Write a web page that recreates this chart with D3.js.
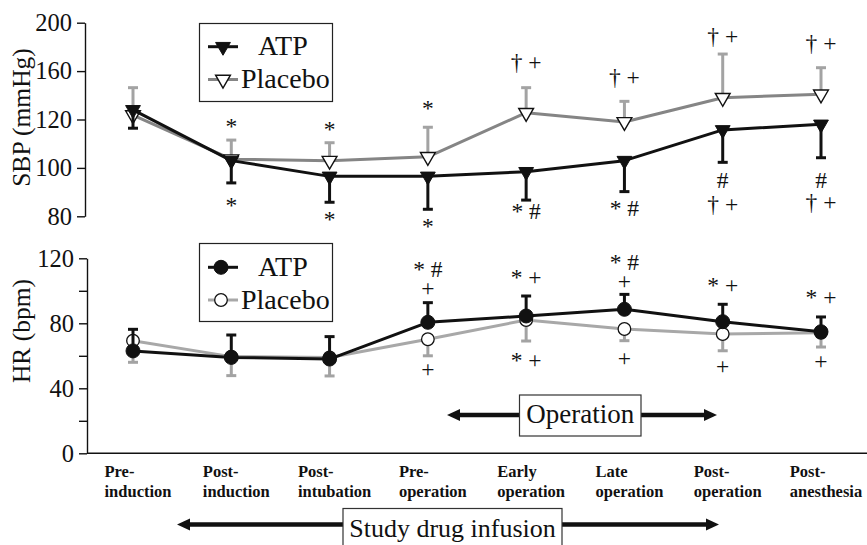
<!DOCTYPE html>
<html><head><meta charset="utf-8">
<script src="https://cdn.jsdelivr.net/npm/d3@7"></script>
<style>
body{margin:0;background:#fff;}
svg{display:block;}
text{font-family:"Liberation Serif","Times New Roman",serif;fill:#111;}
</style></head>
<body>
<svg id="chart" width="867" height="545"></svg>
<script>
// ---------- data ----------
const categories = ["Pre-induction","Post-induction","Post-intubation","Pre-operation","Early operation","Late operation","Post-operation","Post-anesthesia"];
const catLabels = [["Pre-","induction"],["Post-","induction"],["Post-","intubation"],["Pre-","operation"],["Early","operation"],["Late","operation"],["Post-","operation"],["Post-","anesthesia"]];

const sbpTicks = [80,100,120,160,200];
const sbpATP      = [128, 103, 96.5, 96.5, 98.4, 103, 115.7, 118];
const sbpATPsd    = [11.6, 9.2, 10.7, 13.6, 11.7, 12.8, 13.4, 13.8];
const sbpPlacebo  = [123.7, 103.6, 103, 104.6, 125.6, 119, 138, 140.8];
const sbpPlacebosd= [22.6, 7.9, 7.4, 12.2, 20.7, 16, 36.1, 22];

const hrTicks = [0,20,40,60,80,100,120];
const hrLabelTicks = [0,40,80,120];
const hrATP       = [63, 59, 58, 80.6, 84.5, 88.6, 81, 74.8];
const hrATPsd     = [13.3, 13.8, 13.8, 12.1, 12.3, 9.2, 10.7, 9.1];
const hrPlacebo   = [69.3, 59.5, 59, 70.2, 82, 76.5, 73.4, 74.2];
const hrPlacebosd = [13.3, 11.7, 11.4, 10.2, 12.9, 7.2, 10.3, 8.8];

// significance marks: [category, lines of text, value level of first line]
const sbpAnnot = [
  ["Post-induction",["*"],118.6],["Post-induction",["*"],85.9],
  ["Post-intubation",["*"],117.3],["Post-intubation",["*"],80.1],
  ["Pre-operation",["*"],132],["Pre-operation",["*"],77.2],
  ["Early operation",["\u2020 +"],167.5],["Early operation",["* #"],81.8],
  ["Late operation",["\u2020 +"],154.3],["Late operation",["* #"],83.4],
  ["Post-operation",["\u2020 +"],189],["Post-operation",["#"],95],["Post-operation",["\u2020 +"],84.7],
  ["Post-anesthesia",["\u2020 +"],183.2],["Post-anesthesia",["#"],95],["Post-anesthesia",["\u2020 +"],85.5]
];
const hrAnnot = [
  ["Pre-operation",["* #","+"],113],["Pre-operation",["+"],51.7],
  ["Early operation",["* +"],108.3],["Early operation",["* +"],57.4],
  ["Late operation",["* #","+"],117.3],["Late operation",["+"],58.5],
  ["Post-operation",["* +"],103],["Post-operation",["+"],53.7],
  ["Post-anesthesia",["* +"],96],["Post-anesthesia",["+"],56.4]
];
const seriesNames = ["ATP","Placebo"];

// ---------- scales ----------
const svg = d3.select("#chart");
const x = d3.scalePoint().domain(categories).range([133, 821]);
const ySbp = d3.scaleLinear().domain(sbpTicks).range([216.3,167.9,119.5,71.1,22.7]);
const yHr = d3.scaleLinear().domain([0,120]).range([453.3,258.3]);

const BLACK = "#111", GRAY_LINE = "#858585", GRAY_BAR = "#a3a3a3", GRAY_LINE2 = "#a8a8a8";

// ---------- axes ----------
function styleAxis(g){
  g.select(".domain").attr("stroke",BLACK).attr("stroke-width",1.4);
  g.selectAll(".tick line").attr("stroke",BLACK).attr("stroke-width",1.4);
  g.selectAll(".tick text").style("font-family",'"Liberation Serif",serif').style("font-size","24.5px").attr("fill","#111");
}
svg.append("g").attr("transform","translate(85,0)")
  .call(d3.axisLeft(ySbp).tickValues(sbpTicks).tickSize(8).tickPadding(5).tickSizeOuter(0).tickFormat(d3.format("d")))
  .call(styleAxis);
svg.append("g").attr("transform","translate(87,0)")
  .call(d3.axisLeft(yHr).tickValues(hrTicks).tickSize(8).tickPadding(5).tickSizeOuter(0)
    .tickFormat(d => hrLabelTicks.includes(d) ? d : ""))
  .call(styleAxis);
// baseline x-axis
svg.append("line").attr("x1",87).attr("x2",867).attr("y1",yHr(0)).attr("y2",yHr(0))
  .attr("stroke",BLACK).attr("stroke-width",1.4);

// axis titles
svg.append("text").attr("transform",`translate(30,117.5) rotate(-90)`)
  .attr("text-anchor","middle").style("font-size","25.5px").text("SBP (mmHg)");
svg.append("text").attr("transform",`translate(30,331) rotate(-90)`)
  .attr("text-anchor","middle").style("font-size","25.5px").text("HR (bpm)");

// category labels
const cl = svg.append("g");
catLabels.forEach((lines,i)=>{
  const t = cl.append("text").style("font-size","16.5px").style("font-weight","bold");
  lines.forEach((s,j)=> t.append("tspan").attr("y", 476.5 + j*20).text(s));
  const w = d3.max(t.selectAll("tspan").nodes(), n=>n.getComputedTextLength());
  t.selectAll("tspan").attr("x", x(categories[i]) + 5 - w/2);
});

// ---------- drawing helpers ----------
function drawSeries(g, scale, vals, sds, dir, lineColor, barColor){
  const line = d3.line().x((d,i)=>x(categories[i])).y(d=>scale(d));
  vals.forEach((v,i)=>{
    const cx = x(categories[i]);
    const end = v + dir*sds[i];
    g.append("line").attr("x1",cx).attr("x2",cx).attr("y1",scale(v)).attr("y2",scale(end))
      .attr("stroke",barColor).attr("stroke-width",3);
    g.append("line").attr("x1",cx-5).attr("x2",cx+5).attr("y1",scale(end)).attr("y2",scale(end))
      .attr("stroke",barColor).attr("stroke-width",3);
  });
  g.append("path").datum(vals).attr("d",line).attr("fill","none")
    .attr("stroke",lineColor).attr("stroke-width",3).attr("stroke-linejoin","round");
}
const triDown = d3.symbol().type(d3.symbolTriangle).size(95);
function drawTri(g, cx, cy, filled){
  g.append("path").attr("d",triDown()).attr("transform",`translate(${cx},${cy}) rotate(180)`)
    .attr("fill",filled?BLACK:"#fff").attr("stroke",BLACK).attr("stroke-width",filled?1:1.4);
}
function drawCirc(g, cx, cy, filled){
  g.append("circle").attr("cx",cx).attr("cy",cy).attr("r",filled?7:6.3)
    .attr("fill",filled?BLACK:"#fff").attr("stroke",BLACK).attr("stroke-width",filled?1:1.3);
}

// ---------- SBP panel ----------
const gS = svg.append("g");
drawSeries(gS, ySbp, sbpPlacebo, sbpPlacebosd, +1, GRAY_LINE, GRAY_BAR);
sbpPlacebo.forEach((v,i)=>drawTri(gS, x(categories[i]), ySbp(v), false));
drawSeries(gS, ySbp, sbpATP, sbpATPsd, -1, BLACK, BLACK);
sbpATP.forEach((v,i)=>drawTri(gS, x(categories[i]), ySbp(v), true));

// ---------- HR panel ----------
const gH = svg.append("g");
drawSeries(gH, yHr, hrPlacebo, hrPlacebosd, -1, GRAY_LINE2, GRAY_BAR);
hrPlacebo.forEach((v,i)=>drawCirc(gH, x(categories[i]), yHr(v), false));
drawSeries(gH, yHr, hrATP, hrATPsd, +1, BLACK, BLACK);
hrATP.forEach((v,i)=>drawCirc(gH, x(categories[i]), yHr(v), true));

// ---------- annotations ----------
function drawAnnot(list, scale){
  list.forEach(([c,lines,v])=>{
    const off = (lines[0] === "*") ? 11 : 7.5;
    const t = svg.append("text").attr("text-anchor","middle").style("font-size","23.5px");
    lines.forEach((s,j)=> t.append("tspan").attr("x",x(c)).attr("y", scale(v)+off + j*18.5).text(s));
  });
}
drawAnnot(sbpAnnot, ySbp);
drawAnnot(hrAnnot, yHr);

// ---------- legends ----------
function legend(y0, rows, kind){
  const g = svg.append("g");
  g.append("rect").attr("x",199.5).attr("y",y0).attr("width",133).attr("height",78)
    .attr("fill","#fff").attr("stroke","#222").attr("stroke-width",1.2);
  seriesNames.forEach((name,i)=>{
    const cy = rows[i];
    const filled = i===0;
    g.append("line").attr("x1",208).attr("x2",238).attr("y1",cy).attr("y2",cy)
      .attr("stroke",filled?BLACK:(kind==="tri"?GRAY_LINE:GRAY_LINE2)).attr("stroke-width",3);
    if(kind==="tri") drawTri(g,223,cy,filled); else drawCirc(g,221,cy,filled);
    g.append("text").attr("x", filled?258:241).attr("y",cy+8.5).style("font-size","28px").text(name);
  });
}
legend(23.5, [46.7,79.5], "tri");
legend(243.5, [267.3,300], "circ");

// ---------- phase arrows ----------
function phaseArrow(x1, x2, yy, bx1, bx2, by1, by2, label, fs, tyOff){
  const g = svg.append("g");
  g.append("line").attr("x1",x1+10).attr("x2",x2-10).attr("y1",yy).attr("y2",yy)
    .attr("stroke",BLACK).attr("stroke-width",4.5);
  g.append("path").attr("d",`M${x1},${yy} L${x1+13},${yy-6} L${x1+13},${yy+6} Z`).attr("fill",BLACK);
  g.append("path").attr("d",`M${x2},${yy} L${x2-13},${yy-6} L${x2-13},${yy+6} Z`).attr("fill",BLACK);
  g.append("rect").attr("x",bx1).attr("y",by1).attr("width",bx2-bx1).attr("height",by2-by1)
    .attr("fill","#fff").attr("stroke","#333").attr("stroke-width",1.2);
  g.append("text").attr("x",(bx1+bx2)/2).attr("y",by1+tyOff).attr("text-anchor","middle")
    .style("font-size",fs+"px").text(label);
}
phaseArrow(447, 717, 415, 519.5, 641, 395, 436, "Operation", 27, 28);
phaseArrow(177, 719, 524.5, 343, 562, 508.5, 560, "Study drug infusion", 26, 28.5);
</script>
</body></html>
